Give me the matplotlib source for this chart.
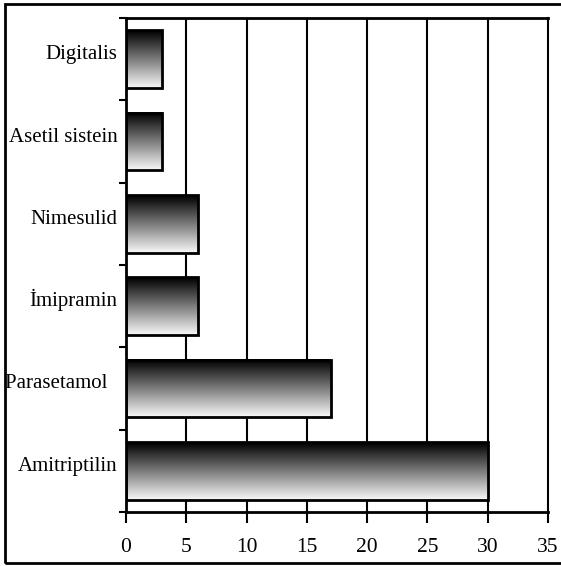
import numpy as np
import matplotlib
matplotlib.use('Agg')
import matplotlib.pyplot as plt
from matplotlib.patches import Rectangle

drugs = ['Amitriptilin', 'Parasetamol  ', 'İmipramin', 'Nimesulid', 'Asetil sistein', 'Digitalis']
counts = [30, 17, 6, 6, 3, 3]
xticks = [0, 5, 10, 15, 20, 25, 30, 35]

plt.rcParams['font.family'] = ['Liberation Serif', 'DejaVu Serif']

W, H = 561, 566
fig = plt.figure(figsize=(W / 100, H / 100), dpi=100)
ax = fig.add_axes([126 / W, 1 - 512 / H, (548 - 126) / W, (512 - 18) / H])

# outer frame around the whole picture (right side runs off the edge)
fig.patches.append(Rectangle((5 / W, 1 - 563 / H), 1.0, (563 - 4) / H,
                             transform=fig.transFigure, fill=False,
                             edgecolor='black', linewidth=2, zorder=0))

# vertical grid
for x in xticks[1:-1]:
    ax.axvline(x, color='black', linewidth=1.5, zorder=1)

grad = np.linspace(0.0, 0.97, 64).reshape(-1, 1)
hb = 0.35
ypos = np.arange(len(drugs))
for y, v in zip(ypos, counts):
    ax.imshow(grad, extent=(0, v, y - hb, y + hb), origin='upper',
              cmap='gray', vmin=0, vmax=1, aspect='auto', zorder=2,
              interpolation='bilinear')
bars = ax.barh(ypos, counts, height=2 * hb, facecolor='none',
               edgecolor='black', linewidth=2, zorder=3)

ax.set_xlim(0, 35)
ax.set_ylim(-0.5, len(drugs) - 0.5)
ax.set_xticks(xticks)
ax.set_xticklabels([str(x) for x in xticks], fontsize=15.5)
ax.set_yticks(ypos, labels=drugs, fontsize=15, va='baseline')
ax.set_yticks(np.arange(-0.5, len(drugs)), minor=True)
ax.tick_params(axis='y', which='major', length=0, pad=6)
ax.tick_params(axis='y', which='minor', length=5, width=1.5, direction='out')
ax.tick_params(axis='x', length=8, width=1.5, direction='out', pad=11)

for s in ax.spines.values():
    s.set_linewidth(2)
ax.spines['right'].set_linewidth(1.5)

fig.savefig('out.png', dpi=100)
